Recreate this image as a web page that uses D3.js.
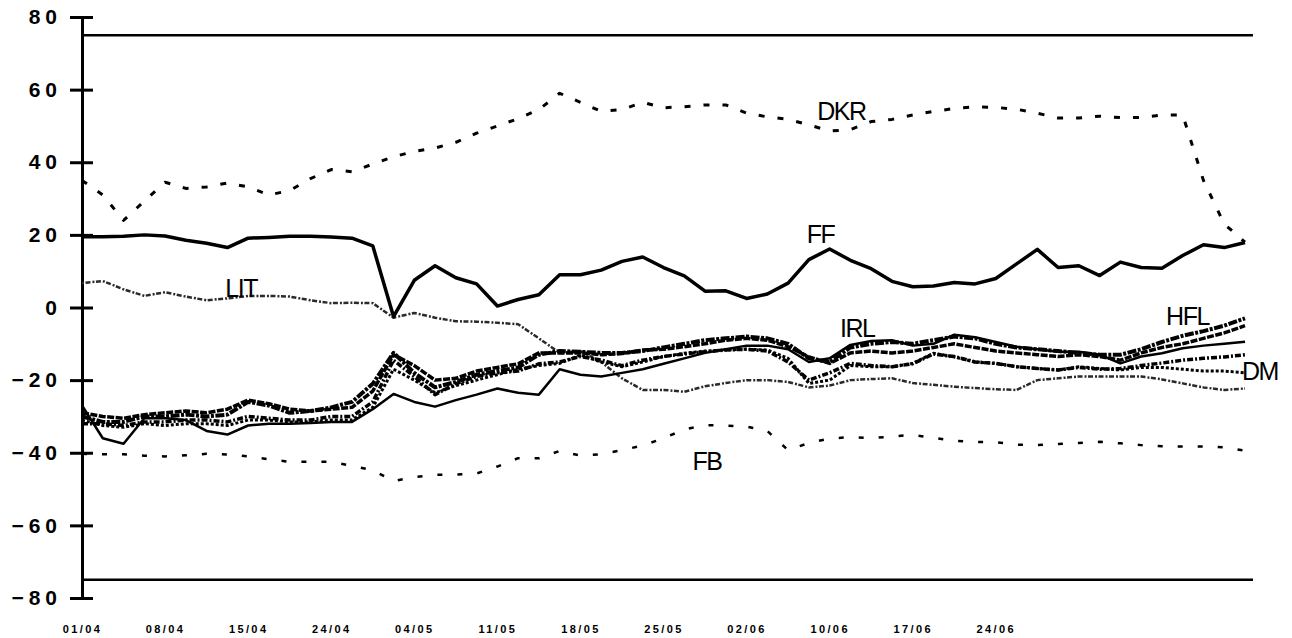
<!DOCTYPE html>
<html>
<head>
<meta charset="utf-8">
<script src="https://cdn.jsdelivr.net/npm/d3@7"></script>
<style>
  body { margin: 0; background: #fff; }
  svg { display: block; font-family: 'Liberation Sans', Arial, sans-serif; }
</style>
</head>
<body>
<div id="chart"></div>
<script>
// tick labels (one every 4 observations)
const xLabels = ['01/04', '08/04', '15/04', '24/04', '04/05', '11/05', '18/05', '25/05', '02/06', '10/06', '17/06', '24/06'];
const yTicks = [80, 60, 40, 20, 0, -20, -40, -60, -80];
const bandLimits = [75, -75];

// series values, 57 observations each
const DKR = [35, 31, 24, 29.3, 34.5, 32.8, 33.2, 34.3, 33.2, 31, 32.2, 35.5, 38, 37.4, 39.5, 41.5, 43, 43.9, 45.5, 48,
  50, 52, 54.5, 59, 56.5, 54, 54.5, 56.5, 55, 55.3, 55.8, 55.8, 53.5, 52.5, 51.8, 50.3, 48.6, 49, 51.2, 51.8,
  53, 54, 54.8, 55.3, 55.1, 54.6, 53.5, 52.2, 52.2, 52.7, 52.3, 52.3, 53, 53, 35, 23, 18];
const FF = [19.5, 19.5, 19.6, 20, 19.7, 18.5, 17.7, 16.5, 19.1, 19.3, 19.6, 19.6, 19.4, 19.1, 17, -2.5, 7.5, 11.5, 8.2, 6.5,
  0.4, 2.2, 3.5, 9, 9, 10.3, 12.7, 13.9, 11, 8.7, 4.5, 4.6, 2.5, 3.7, 6.7, 13.2, 16.1, 13, 10.7, 7.2,
  5.7, 5.9, 6.9, 6.5, 8, 12, 16, 11, 11.5, 8.8, 12.5, 11, 10.8, 14.3, 17.3, 16.5, 17.9];
const LIT = [6.7, 7.3, 5, 3.2, 4.2, 3, 2, 2.5, 3.2, 3.2, 3, 2, 1.2, 1.3, 1.2, -2.8, -1.5, -2.8, -3.8, -3.9,
  -4.2, -4.6, -8.5, -12.5, -12, -15, -19.5, -22.7, -22.7, -23.2, -21.7, -20.8, -20, -20, -20.5, -22, -21.5, -20, -19.7, -19.5,
  -20.8, -21.3, -21.8, -22.2, -22.5, -22.7, -20, -19.5, -19, -19, -19, -19, -19.8, -20.9, -22, -22.7, -22.3];
const IRL = [-27, -36, -37.5, -30.5, -30.5, -31, -34, -35, -32.5, -32, -32, -31.8, -31.5, -31.5, -28, -23.8, -26, -27.3, -25.5, -24,
  -22.3, -23.5, -24, -17, -18.5, -19, -18, -17, -15.5, -14, -12.5, -11.5, -10.5, -10.5, -11.5, -15, -14, -10.3, -9.2, -9,
  -10.5, -10, -7.5, -8.2, -9.5, -10.8, -11.5, -12.2, -12.2, -13, -15.4, -13.5, -12.6, -11.2, -10.5, -10, -9.4];
const HFL = [-30, -31.5, -31.5, -30, -30, -29.5, -30, -29.5, -26, -27, -29, -28.5, -27.5, -26, -21, -12.5, -18, -22, -20.5, -18.5,
  -17.5, -16.5, -13, -12, -12.2, -12.5, -12.5, -12, -11, -10, -9, -8.5, -8, -8.5, -10, -14, -15, -11, -10, -9.5,
  -10, -9, -8, -8.5, -10, -11, -11.5, -12, -12.5, -13, -13, -11.5, -9.5, -7.8, -6.5, -5, -3];
const DM = [-32, -32, -32.5, -31.5, -31.5, -31, -31, -31.5, -30, -30.5, -31, -31, -30, -30, -26, -14.5, -19, -24, -21, -19,
  -18, -17.5, -15.5, -15, -13.5, -14.5, -16, -14.5, -13.5, -12.8, -12.2, -11.7, -11.5, -12, -15, -20, -18, -15.4, -16, -16.3,
  -15.5, -12.8, -13.5, -15, -15.4, -16.3, -16.8, -17.2, -16.5, -17, -16.8, -16, -15.3, -14.5, -14, -13.6, -13];
const otherA = [-29, -30, -30.5, -29.5, -29, -28.5, -29, -28, -25.5, -26.5, -28, -28.5, -28, -27.5, -23, -13, -16, -20, -19.5, -17.5,
  -16.5, -15.5, -12.5, -12.5, -12.5, -13, -12.7, -11.7, -11.5, -10.8, -10, -9, -8.5, -9, -10.8, -13.6, -15.4, -12.5, -12, -12.5,
  -12, -11, -10, -11, -12, -12.5, -13, -13.5, -13, -13.5, -14.5, -12.5, -11, -10, -8.5, -7, -5];
const otherB = [-31, -32.5, -33, -32, -32.5, -32, -32, -32.5, -31, -31, -31.5, -31.5, -31, -31, -27.5, -17, -20, -23.5, -21.5, -20,
  -18.5, -17, -16, -15.4, -13.1, -15, -16.3, -15, -13.5, -12.6, -12, -11.7, -11.5, -11.7, -14, -20.9, -20, -16, -16.3, -16.3,
  -15.4, -12.6, -13.6, -15, -15.4, -16.3, -16.8, -17.2, -16.3, -16.8, -17.2, -16.5, -16.5, -17, -17.5, -17.5, -18];
const FB = [-40.3, -40.4, -40.4, -40.8, -41, -40.7, -40.3, -40.5, -41, -41.8, -42.5, -42.5, -42.5, -43.6, -44.8, -47.8, -46.7, -46.1, -46, -45.7,
  -43.8, -41.5, -41.5, -39.5, -40.8, -40.4, -39.3, -38, -36, -33.6, -32.4, -32.5, -32.8, -34, -39.3, -37.3, -36.1, -35.7, -36, -35.5,
  -35.1, -35.9, -36.7, -37, -37.1, -37.8, -37.9, -37.6, -37.3, -37, -37.4, -37.9, -38.2, -38.3, -38.3, -38.5, -39.4];

const width = 1292;
const height = 638;

const series = [
  {values: FB, dash: '5,15', stroke: '#000', w: 2.5},
  {values: LIT, dash: '2,1.5,5,2', stroke: '#2a2a2a', w: 2.5},
  {values: otherB, dash: '3,2', stroke: '#000', w: 3},
  {values: DM, dash: '6,2,2,2', stroke: '#000', w: 3.5},
  {values: otherA, dash: '7,1.5', stroke: '#000', w: 3.5},
  {values: HFL, dash: '9,1.5,3,1.5', stroke: '#000', w: 4},
  {values: IRL, dash: null, stroke: '#000', w: 2.5},
  {values: FF, dash: null, stroke: '#000', w: 3.5},
  {values: DKR, dash: '6,13', stroke: '#000', w: 3},
];

// label anchors, in index / value units
const seriesLabels = [
  {text: 'DKR', i: 35.4, v: 51.7},
  {text: 'FF', i: 34.9, v: 17.8},
  {text: 'LIT', i: 6.9, v: 2.9},
  {text: 'IRL', i: 36.5, v: -8.1},
  {text: 'HFL', i: 52.2, v: -4.8},
  {text: 'DM', i: 55.85, v: -20},
  {text: 'FB', i: 29.4, v: -44.8},
];

const svg = d3.select('#chart').append('svg')
  .attr('width', width)
  .attr('height', height);

svg.append('rect').attr('width', width).attr('height', height).attr('fill', '#fff');

const x = d3.scaleLinear().domain([0, FF.length - 1]).range([82, 1245]);
const y = d3.scaleLinear().domain([-80, 80]).range([598, 17]);

// horizontal limits at +/-75
svg.selectAll('line.limit')
  .data(bandLimits)
  .enter().append('line')
  .attr('class', 'limit')
  .attr('x1', x(0))
  .attr('x2', x(FF.length - 1) + 8)
  .attr('y1', (d) => y(d))
  .attr('y2', (d) => y(d))
  .style('stroke', '#000')
  .style('stroke-width', 2.5);

// y axis with crossing ticks
const yAxis = d3.axisLeft(y).tickValues(yTicks).tickSizeInner(12).tickSizeOuter(0).tickPadding(8);

const gy = svg.append('g')
  .attr('class', 'y-axis')
  .attr('transform', `translate(${x(0)},0)`)
  .call(yAxis);

gy.select('.domain').style('stroke', '#000').style('stroke-width', 3);
gy.selectAll('.tick line').style('stroke', '#000').style('stroke-width', 3);
gy.selectAll('.tick')
  .append('line')
  .attr('x1', 0)
  .attr('x2', 11)
  .style('stroke', '#000')
  .style('stroke-width', 3);
gy.selectAll('.tick text')
  .style('font-size', '21px')
  .style('font-weight', 'bold')
  .style('letter-spacing', '5px')
  .style('fill', '#000');

// x axis labels only
const labelIdx = xLabels.map((d, i) => i * 4);
const xAxis = d3.axisBottom(x).tickValues(labelIdx).tickFormat((d, i) => xLabels[i]).tickSize(0).tickPadding(0);

const gx = svg.append('g')
  .attr('class', 'x-axis')
  .attr('transform', `translate(0,${625})`)
  .call(xAxis);

gx.select('.domain').remove();
gx.selectAll('.tick text')
  .style('font-size', '11px')
  .style('font-weight', 'bold')
  .style('letter-spacing', '2.4px')
  .style('fill', '#000');

// lines
const line = d3.line()
  .x((d, i) => x(i))
  .y((d) => y(d));

svg.selectAll('path.series')
  .data(series)
  .enter().append('path')
  .attr('class', 'series')
  .attr('d', (d) => line(d.values))
  .style('fill', 'none')
  .style('stroke', (d) => d.stroke)
  .style('stroke-width', (d) => d.w)
  .style('stroke-dasharray', (d) => d.dash)
  .style('stroke-linejoin', 'round');

// series names
svg.selectAll('text.name')
  .data(seriesLabels)
  .enter().append('text')
  .attr('class', 'name')
  .attr('x', (d) => x(d.i))
  .attr('y', (d) => y(d.v))
  .style('font-size', '25px')
  .style('letter-spacing', '-1.5px')
  .style('fill', '#000')
  .text((d) => d.text);
</script>
</body>
</html>
